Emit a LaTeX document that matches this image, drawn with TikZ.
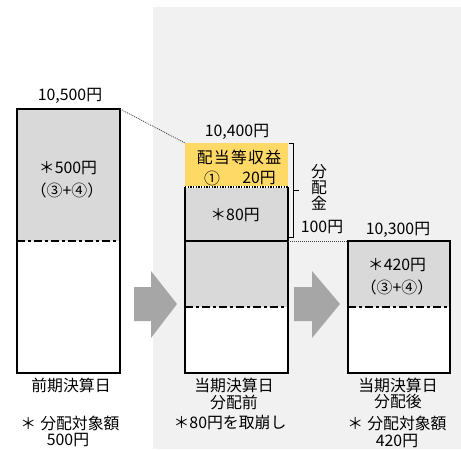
\documentclass[tikz,border=0pt]{standalone}
\usepackage{fontspec}
\setmainfont{Noto Sans CJK JP}
\definecolor{panel}{HTML}{F1F1F1}
\definecolor{boxgray}{HTML}{D9D9D9}
\definecolor{yellowc}{HTML}{FFD966}
\definecolor{arrowgray}{HTML}{A6A6A6}
\begin{document}
\begin{tikzpicture}[x=0.75pt,y=-0.75pt,
  lbl/.style={inner sep=0pt, font=\fontsize{11.9}{13}\selectfont},
  boxline/.style={draw=black, line width=1.1pt},
  ddot/.style={draw=black, line width=1.5pt, dash pattern=on 6pt off 2.25pt on 2.25pt off 2.25pt},
  dotline/.style={draw=black!75, line width=0.6pt, dash pattern=on 0.75pt off 0.75pt},
  bigarrow/.style={fill=arrowgray, draw=none}]
\useasboundingbox (0,0) rectangle (461,450);
% background panel
\fill[panel] (153,7) rectangle (461,449);

% corner coordinates
\coordinate (Ltr) at (120,109);
\coordinate (Mtl) at (185,143);
\coordinate (Mmr) at (288,241);
\coordinate (Rtl) at (348,241);

% left box
\fill[boxgray] (17,109) rectangle (120,241);
\fill[white] (17,241) rectangle (120,373);
\draw[ddot] (17,241) -- (120,241);
\draw[boxline] (17,109) rectangle (120,373);

% middle box
\fill[yellowc] (185,143) rectangle (288,187);
\fill[boxgray] (185,187) rectangle (288,307);
\fill[white] (185,307) rectangle (288,373);
\draw[boxline] (185,187) -- (185,373) -- (288,373) -- (288,187);
\draw[white, line width=0.8pt] (185,187) -- (288,187);
\draw[black, line width=0.8pt, dash pattern=on 1pt off 1pt] (185,187) -- (288,187);
\draw[black, line width=1.1pt] (185,241) -- (288,241);
\draw[ddot] (185,307) -- (288,307);

% right box
\fill[boxgray] (348,241) rectangle (450,307);
\fill[white] (348,307) rectangle (450,373);
\draw[ddot] (348,307) -- (450,307);
\draw[boxline] (348,241) rectangle (450,373);

% dotted connectors
\draw[dotline] (Ltr) -- (Mtl);
\draw[dotline] (Mmr) -- (Rtl);

% brace
\draw[black, line width=0.6pt] (288.5,143) -- (293,143) -- (293,237) -- (288.5,237);
\draw[black, line width=0.6pt] (293,190) -- (299,190);

% block arrows
\fill[bigarrow] (134,287) -- (151,287) -- (151,271) -- (177,304) -- (151,338) -- (151,321) -- (134,321) -- cycle;
\fill[bigarrow] (294,287) -- (312,287) -- (312,271) -- (340,304) -- (312,338) -- (312,321) -- (294,321) -- cycle;

% texts left
\node[lbl] (a1) at (70,96) {10,500円};
\node[lbl] (a2) at (68,168) {＊500円};
\node[lbl] (a3) at (67,190) {（③+④）};
\node[lbl] (a4) at (71,385) {前期決算日};
\node[lbl] (a5) at (70,423) {＊\hspace{3pt}分配対象額};
\node[lbl] (a6) at (68,440) {500円};

% texts middle
\node[lbl] (b1) at (237,132) {10,400円};
\node[lbl] (b2) at (239,157) {\addfontfeature{LetterSpace=8}配当等収益};
\node[lbl] (b3) at (212,178) {①};
\node[lbl] (b4) at (259,178) {20円};
\node[lbl] (b5) at (235,215) {＊80円};
\node[lbl] (b6) at (234,385) {当期決算日};
\node[lbl] (b7) at (234,402) {分配前};
\node[lbl] (b8) at (230,423) {＊80円を取崩し};

% distribution label
\node[lbl] (c1) at (319,172) {分};
\node[lbl] (c2) at (319,187.5) {配};
\node[lbl] (c3) at (319,203) {金};
\node[lbl] (c4) at (322,227) {100円};

% texts right
\node[lbl] (d1) at (398,230) {10,300円};
\node[lbl] (d2) at (397,265) {＊420円};
\node[lbl] (d3) at (397,287) {（③+④）};
\node[lbl] (d4) at (398,385) {当期決算日};
\node[lbl] (d5) at (398,402) {分配後};
\node[lbl] (d6) at (397,423) {＊\hspace{3pt}分配対象額};
\node[lbl] (d7) at (397,441) {420円};
\end{tikzpicture}
\end{document}
